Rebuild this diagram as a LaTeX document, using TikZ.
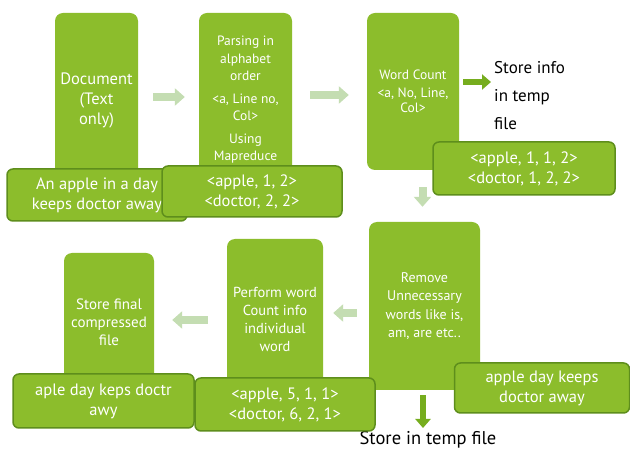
\documentclass[tikz,border=0pt]{standalone}
\usepackage{fontspec}
\setmainfont{PT Sans}
\usepackage{xcolor}
\definecolor{boxGreen}{HTML}{8CBD2C}
\definecolor{tagBorder}{HTML}{5E8E1C}
\definecolor{flowLight}{HTML}{C4DDB2}
\definecolor{flowDark}{HTML}{76AD1E}
\usepackage{tikz}
\usetikzlibrary{arrows.meta, positioning, calc}

\begin{document}
\begin{tikzpicture}[
    x=1pt, y=-1pt,
    stagebox/.style={
        rectangle,
        fill=boxGreen,
        rounded corners=8pt,
        inner sep=0pt,
        align=center,
        text=white
    },
    sampletag/.style={
        rectangle,
        draw=tagBorder,
        line width=1.5pt,
        fill=boxGreen,
        rounded corners=6pt,
        inner sep=0pt,
        align=center,
        text=white,
        minimum height=52pt,
        font=\fontsize{16.5}{20}\selectfont
    },
    flowarrow/.style={
        -{Triangle[width=17pt,length=10pt]},
        line width=8pt,
        draw=flowLight
    },
    outarrow/.style={
        -{Triangle[width=15pt,length=9pt]},
        line width=6pt,
        draw=flowDark
    },
    storenote/.style={
        align=left,
        inner sep=0pt,
        text=black,
        font=\fontsize{17}{28}\selectfont
    }
]

\useasboundingbox[fill=white] (0,0) rectangle (630,454);

\node[stagebox, minimum width=83pt, minimum height=174pt, font=\fontsize{16.5}{20}\selectfont] (doc) at (96.5,100) {Document\\(Text\\only)};
\node[sampletag, minimum width=180pt] (doctag) at (97,195) {An apple in a day\\keeps doctor away};

\node[stagebox, minimum width=93pt, minimum height=174pt, font=\fontsize{13.5}{17.5}\selectfont] (parse) at (245.5,100) {Parsing in\\alphabet\\order\\[5pt]<a, Line no,\\Col>\\[5pt]Using\\Mapreduce};
\node[sampletag, minimum width=180pt, minimum height=51pt] (parsetag) at (252,191.5) {<apple, 1, 2>\\<doctor, 2, 2>};

\node[stagebox, minimum width=92pt, minimum height=157pt, font=\fontsize{13.5}{15}\selectfont] (count) at (413,91.5) {Word Count\\[3pt]<a, No, Line,\\Col>};
\node[storenote, anchor=west] (info) at (494,96) {Store info\\in temp\\file};
\node[sampletag, minimum width=182pt, minimum height=53pt] (counttag) at (524,168.5) {<apple, 1, 1, 2>\\<doctor, 1, 2, 2>};

\node[stagebox, minimum width=111pt, minimum height=168pt, font=\fontsize{14}{18.5}\selectfont] (clean) at (424.5,306) {Remove\\Unnecessary\\words like is,\\am, are etc..};
\node[sampletag, minimum width=175pt, minimum height=50pt] (cleantag) at (542,388) {apple day keeps\\doctor away};
\node[storenote, anchor=north, font=\fontsize{18.5}{22}\selectfont] (temp) at (428,431) {Store in temp file};

\node[stagebox, minimum width=96pt, minimum height=160pt, font=\fontsize{14.5}{18}\selectfont] (perform) at (275,319) {Perform word\\Count info\\individual\\word};
\node[sampletag, minimum width=180pt, minimum height=53pt] (performtag) at (285,404.5) {<apple, 5, 1, 1>\\<doctor, 6, 2, 1>};

\node[stagebox, minimum width=90pt, minimum height=138pt, font=\fontsize{15}{18}\selectfont] (final) at (109,322) {Store final\\compressed\\file};
\node[sampletag, minimum width=181pt, minimum height=54pt] (finaltag) at (103.5,401) {aple day keps doctr\\awy};

\draw[flowarrow, shorten <=15pt, shorten >=14pt] ([yshift=3pt]doc.east) -- ([yshift=3pt]doc.east -| parse.west);
\draw[flowarrow, shorten <=18pt, shorten >=18pt] ([yshift=5pt]parse.east) -- ([yshift=5pt]parse.east -| count.west);
\draw[outarrow, shorten <=4pt, shorten >=3pt] ([yshift=9.5pt]count.east) -- ([yshift=9.5pt]count.east -| info.west);
\draw[flowarrow, shorten <=17pt, shorten >=15pt] ([xshift=-2pt]clean.north |- count.south) -- ([xshift=-2pt]clean.north);
\draw[flowarrow, shorten <=12pt, shorten >=10pt] ([yshift=-7pt]clean.west) -- ([yshift=-7pt]clean.west -| perform.east);
\draw[flowarrow, shorten <=19pt, shorten >=18pt] ([yshift=-1pt]perform.west) -- ([yshift=-1pt]perform.west -| final.east);
\draw[outarrow, shorten <=5pt, shorten >=3pt] ([xshift=-1.5pt]clean.south) -- ([xshift=-1.5pt]clean.south |- temp.north);
\end{tikzpicture}
\end{document}
